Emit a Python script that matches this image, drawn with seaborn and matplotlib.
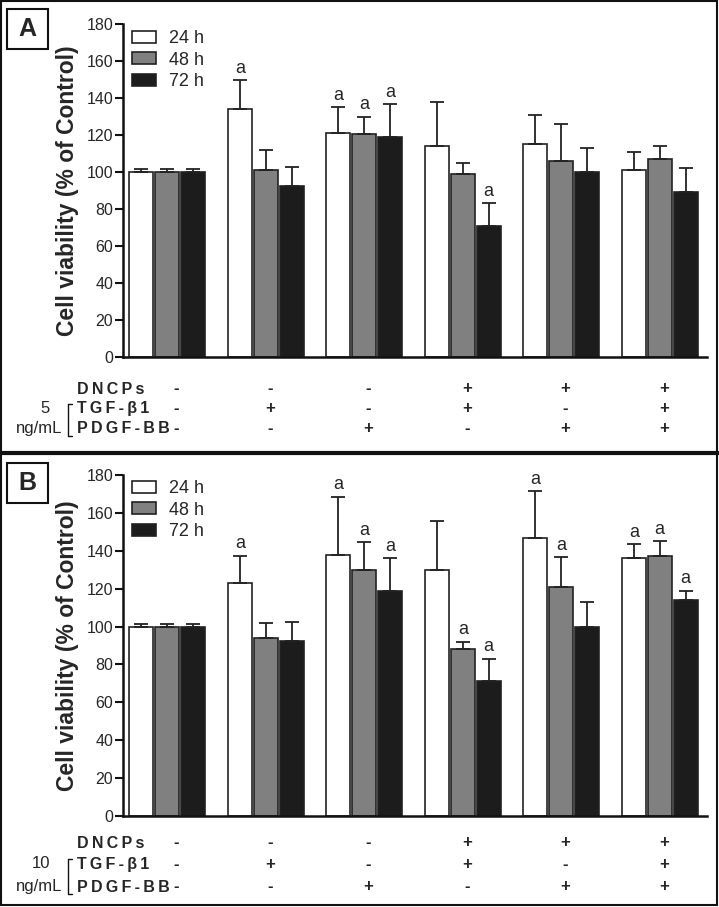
import numpy as np
import pandas as pd
import matplotlib
matplotlib.use('Agg')
import matplotlib.pyplot as plt
import matplotlib.transforms as mtransforms
from matplotlib.patches import Rectangle
from matplotlib.lines import Line2D
import seaborn as sns

# treatment groups and time points
groups = ['Control', 'TGF', 'PDGF', 'DNCPs+TGF', 'DNCPs+PDGF', 'DNCPs+TGF+PDGF']
times = ['24 h', '48 h', '72 h']
colors = {'24 h': '#ffffff', '48 h': '#808080', '72 h': '#1c1c1c'}

# panel A (5 ng/mL) means and upper SD
a_24 = [100, 134, 121, 114, 115, 101]
a_48 = [100, 101, 120.5, 99, 106, 107]
a_72 = [100, 92.5, 119, 71, 100, 89]
a_24_sd = [1.5, 15.5, 14, 24, 16, 10]
a_48_sd = [1.5, 11, 9.5, 6, 20, 7]
a_72_sd = [1.5, 10, 17.5, 12, 13, 13]
a_sig = [[0, 1, 1, 0, 0, 0], [0, 0, 1, 0, 0, 0], [0, 0, 1, 1, 0, 0]]

# panel B (10 ng/mL)
b_24 = [100, 123, 138, 130, 147, 136]
b_48 = [100, 94, 130, 88, 121, 137]
b_72 = [100, 92.5, 119, 71.5, 100, 114]
b_24_sd = [1.5, 14.5, 30.5, 25.5, 24.5, 7.5]
b_48_sd = [1.5, 8, 14.5, 4, 15.5, 8]
b_72_sd = [1.5, 10, 17, 11.5, 13, 5]
b_sig = [[0, 1, 1, 0, 1, 1], [0, 0, 1, 1, 1, 1], [0, 0, 1, 1, 0, 1]]

row_labels = ['D\u2009N\u2009C\u2009P\u2009s', 'T\u2009G\u2009F\u2009-\u2009β\u20091', 'P\u2009D\u2009G\u2009F\u2009-\u2009B\u2009B']
dncps = ['-', '-', '-', '+', '+', '+']
tgf = ['-', '+', '-', '+', '-', '+']
pdgf = ['-', '-', '+', '-', '+', '+']

sns.set_theme(style='ticks')
plt.rcParams['font.family'] = ['Liberation Sans', 'DejaVu Sans']

W, H = 719, 907
fig = plt.figure(figsize=(W / 100, H / 100), dpi=100)


def fx(x):
    return x / W


def fy(y):
    return 1 - y / H


def draw_panel(ax, means, sds, sig, letter, conc, rows_px, box_y, leg_y):
    df = pd.DataFrame({
        'group': np.tile(groups, 3),
        'time': np.repeat(times, 6),
        'value': np.concatenate(means),
    })
    sns.barplot(data=df, x='group', y='value', hue='time', order=groups,
                hue_order=times, palette=colors, errorbar=None, width=0.79,
                gap=0.08, edgecolor='#222222', linewidth=1.2, saturation=1,
                ax=ax)
    bar_sets = list(ax.containers)
    for k, cont in enumerate(bar_sets):
        xs = np.array([p.get_x() + p.get_width() / 2 for p in cont])
        hs = np.array([p.get_height() for p in cont])
        sd = np.array(sds[k])
        ax.errorbar(xs, hs, yerr=[np.zeros_like(sd), sd], fmt='none',
                    ecolor='#222222', elinewidth=1.3, capsize=5, capthick=1.3,
                    zorder=1)
        for x, h, s, flag in zip(xs, hs, sd, sig[k]):
            if flag:
                ax.text(x, h + s + 4, 'a', ha='center', va='baseline',
                        fontsize=13)
    ax.set_ylim(0, 180)
    ax.set_xlim(-0.45, 5.48)
    ax.set_yticks(range(0, 181, 20))
    ax.set_xticks([])
    ax.set_xlabel('')
    ax.set_ylabel('Cell viability (% of Control)', fontsize=16.5,
                  fontweight='bold')
    ax.yaxis.set_label_coords(-0.075, 0.5)
    sns.despine(ax=ax)
    for s in ['left', 'bottom']:
        ax.spines[s].set_linewidth(1.8)
        ax.spines[s].set_color('#111111')
    ax.tick_params(axis='y', direction='out', length=6, width=1.5,
                   labelsize=11.5, pad=1, color='#111111')
    handles, labels = ax.get_legend_handles_labels()
    ax.legend(handles, labels, loc='upper left', bbox_to_anchor=(0.015, leg_y),
              frameon=False, fontsize=13, handlelength=1.33,
              handleheight=0.67, handletextpad=0.75, labelspacing=0.25,
              borderpad=0, borderaxespad=0)

    # treatment table under the bars
    trans = mtransforms.blended_transform_factory(ax.transData, fig.transFigure)
    for lab, signs, ypx in zip(row_labels, [dncps, tgf, pdgf], rows_px):
        fig.text(fx(77), fy(ypx), lab, ha='left', va='center', fontsize=11.5,
                 fontweight='bold')
        for i, sgn in enumerate(signs):
            xoff = 0.09 if i == 0 else 0.04
            ax.text(i + xoff, fy(ypx), sgn, transform=trans, ha='center',
                    va='center', fontsize=12, fontweight='bold')
    fig.text(fx(50), fy(rows_px[1]), conc, ha='right', va='center',
             fontsize=12)
    fig.text(fx(62), fy(rows_px[2]), 'ng/mL', ha='right', va='center',
             fontsize=12)
    b_top, b_bot = rows_px[1] - 5, rows_px[2] + 7
    fig.add_artist(Line2D([fx(72), fx(68), fx(68), fx(72)],
                          [fy(b_top), fy(b_top), fy(b_bot), fy(b_bot)],
                          color='#111111', lw=1.0))

    # panel letter
    fig.add_artist(Rectangle((fx(7), fy(box_y + 40)), 41 / W, 40 / H,
                             transform=fig.transFigure, fill=False,
                             ec='#111111', lw=1.5))
    fig.text(fx(27.5), fy(box_y + 20), letter, ha='center', va='center',
             fontsize=18, fontweight='bold')


axA = fig.add_axes([fx(123), fy(357), (707 - 123) / W, (357 - 24) / H])
axB = fig.add_axes([fx(123), fy(816), (707 - 123) / W, (816 - 475) / H])

draw_panel(axA, [a_24, a_48, a_72], [a_24_sd, a_48_sd, a_72_sd], a_sig,
           'A', '5', [389, 409, 429], 9, 0.982)
draw_panel(axB, [b_24, b_48, b_72], [b_24_sd, b_48_sd, b_72_sd], b_sig,
           'B', '10', [843, 864, 887], 463, 0.985)

# outer frames
fig.add_artist(Rectangle((fx(1), fy(453)), 716 / W, 452 / H,
                         transform=fig.transFigure, fill=False, ec='#111111',
                         lw=1.5))
fig.add_artist(Rectangle((fx(1), fy(905)), 716 / W, 452 / H,
                         transform=fig.transFigure, fill=False, ec='#111111',
                         lw=1.5))
fig.add_artist(Line2D([0, 1], [fy(453), fy(453)], color='#111111', lw=3))

fig.savefig('out.png', dpi=100)
